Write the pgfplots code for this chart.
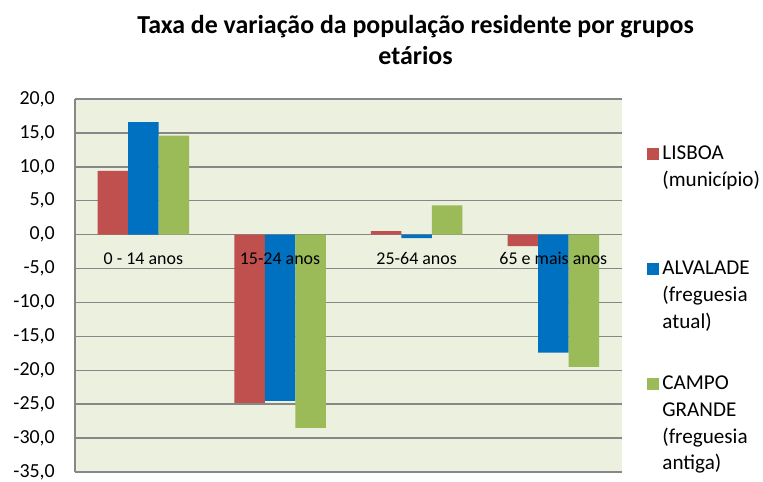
\documentclass[border=0pt]{standalone}
\usepackage{fontspec}
\setmainfont{Carlito}
\usepackage{pgfplots}
\pgfplotsset{compat=1.18}

\definecolor{lisboa}{HTML}{C0504D}
\definecolor{alvalade}{HTML}{0070C0}
\definecolor{campo}{HTML}{9BBB59}
\definecolor{plotbg}{HTML}{EBF0DF}
\definecolor{gridgray}{HTML}{878787}

\pgfplotsset{
  sqlegend/.style={legend image code/.code={\fill[##1] (0bp,38.8bp) rectangle (12.5bp,50.8bp);}},
}
% legend text: fixed-height boxes so the entries sit 115bp apart
\newcommand{\legtext}[1]{\parbox[c][115bp][t]{112bp}{\raggedright\strut#1}}

\begin{document}
\begin{tikzpicture}
\begin{axis}[
  scale only axis,
  width=546.7bp, height=373bp,
  xmin=-0.5, xmax=3.5,
  ymin=-35, ymax=20,
  ytick={-35,-30,...,20},
  xtick={0,1,2,3},
  xticklabels={0 - 14 anos, 15-24 anos, 25-64 anos, 65 e mais anos},
  axis x line=middle,
  axis y line=left,
  hide obscured x ticks=false,
  hide obscured y ticks=false,
  axis line style={-, draw=gridgray, line width=1.5bp},
  major tick length=0pt,
  ymajorgrids,
  grid style={draw=gridgray, line width=1.5bp},
  axis background/.style={fill=plotbg},
  set layers,
  clip mode=individual,
  ybar=0pt, bar width=30.5bp,
  /pgf/number format/fixed,
  /pgf/number format/fixed zerofill,
  /pgf/number format/precision=1,
  /pgf/number format/use comma,
  /pgf/number format/assume math mode=true,
  yticklabel style={anchor=east, inner xsep=0pt, xshift=-20bp, font=\fontsize{20}{23}\selectfont},
  xticklabel style={/pgfplots/on layer=axis foreground, anchor=base, yshift=-30bp, font=\fontsize{18}{22}\selectfont},
  legend cell align=left,
  legend style={draw=none, fill=none, at={(1,1)}, anchor=north west,
    xshift=25bp, yshift=-42bp, inner sep=0pt, row sep=0pt,
    nodes={inner sep=0pt, text depth=},
    font=\fontsize{21.2}{26.7}\selectfont,
    /tikz/every odd column/.append style={column sep=3bp}},
]
\addplot[fill=lisboa, draw=none, bar shift=-30.5bp, sqlegend] coordinates {(0,9.4) (1,-24.8) (2,0.5) (3,-1.7)};
\addlegendentry{\legtext{LISBOA\\(município)}}
\addplot[fill=alvalade, draw=none, bar shift=0bp, sqlegend] coordinates {(0,16.6) (1,-24.5) (2,-0.5) (3,-17.4)};
\addlegendentry{\legtext{ALVALADE\\(freguesia\\atual)}}
\addplot[fill=campo, draw=none, bar shift=30.5bp, sqlegend] coordinates {(0,14.6) (1,-28.5) (2,4.3) (3,-19.5)};
\addlegendentry{\legtext{CAMPO\\GRANDE\\(freguesia\\antiga)}}
\node[align=center, font=\fontsize{26}{31}\selectfont\bfseries] at (rel axis cs:0.623,1.158)
  {Taxa de variação da população residente por grupos\\etários};
\coordinate (sw) at (rel axis cs:0,0);
\coordinate (ne) at (rel axis cs:1,1);
\end{axis}
\path (sw) ++(-75bp,-10bp) coordinate (bbA) (ne) ++(141.3bp,99bp) coordinate (bbB);
\pgfresetboundingbox
\path[use as bounding box] (bbA) rectangle (bbB);
\end{tikzpicture}
\end{document}
